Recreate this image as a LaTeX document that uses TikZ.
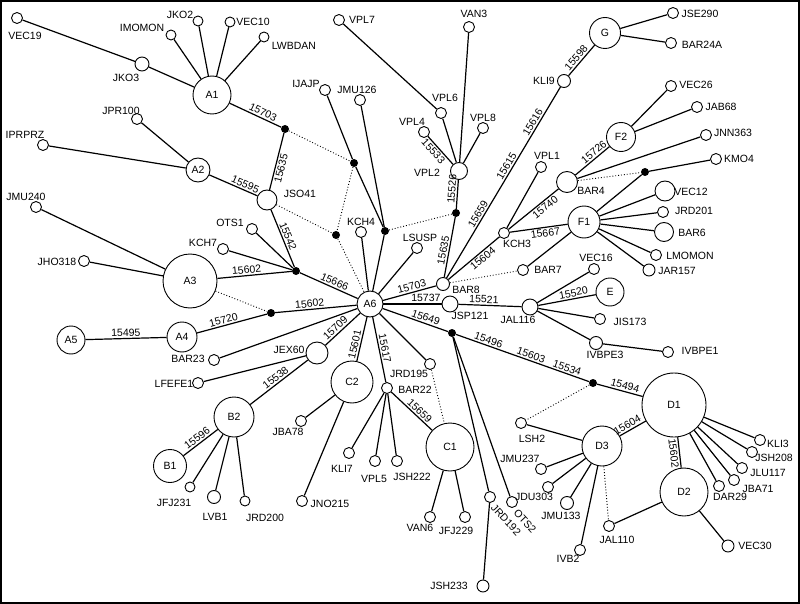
\documentclass[tikz,border=0pt]{standalone}
\usepackage{fontspec}
\setmainfont{Liberation Sans}
\tikzset{
  hap/.style={circle, draw, line width=.9pt, inner sep=0pt, minimum size=11pt},
  mv/.style={circle, fill=black, inner sep=0pt, minimum size=8pt},
  nm/.style={inner sep=0pt},
  dotline/.style={dotted, line width=.9pt},
}
\begin{document}
\begin{tikzpicture}[x=1pt, y=-1pt, font=\fontsize{10.5}{12}\selectfont]
\useasboundingbox (0,0) rectangle (800,604);
\draw[line width=2pt] (1,1) rectangle (799,603);

      \begin{scope}[every node/.style={hap}]
        \node[minimum size=38pt] (A1) at (212,95)  {A1};
        \node[minimum size=24pt] (A2) at (198,170) {A2};
        \node[minimum size=54pt] (A3) at (190,281) {A3};
        \node[minimum size=30pt] (A4) at (182,337) {A4};
        \node[minimum size=28pt] (A5) at (71,340)  {A5};
        \node[minimum size=26pt] (A6) at (370,304) {A6};
        \node[minimum size=33pt] (B1) at (170,466) {B1};
        \node[minimum size=40pt] (B2) at (234,417) {B2};
        \node[minimum size=48pt] (C1) at (450,447) {C1};
        \node[minimum size=42pt] (C2) at (352,382) {C2};
        \node[minimum size=64pt] (D1) at (674,405) {D1};
        \node[minimum size=48pt] (D2) at (684,492) {D2};
        \node[minimum size=40pt] (D3) at (602,446) {D3};
        \node[minimum size=28pt] (E)  at (610,292) {E};
        \node[minimum size=32pt] (F1) at (584,222) {F1};
        \node[minimum size=29pt] (F2) at (621,137) {F2};
        \node[minimum size=31pt] (G)  at (605,33)  {G};

        \node (VEC19)  at (17,18)   {};
        \node[minimum size=14pt] (JKO3) at (142,64) {};
        \node[minimum size=10pt] (IMOMON) at (171,35) {};
        \node[minimum size=10pt] (JKO2)   at (198,21) {};
        \node[minimum size=10pt] (VEC10)  at (230,22) {};
        \node[minimum size=10pt] (LWBDAN) at (264,37) {};
        \node (JPR100) at (137,119) {};
        \node (IPRPRZ) at (43,145)  {};
        \node[minimum size=20pt] (JSO41) at (267,200) {};
        \node (VPL7)   at (339,20)  {};
        \node (VAN3)   at (469,27)  {};
        \node (IJAJP)  at (325,90)  {};
        \node (JMU126) at (360,100) {};
        \node (VPL6)   at (441,113) {};
        \node (VPL4)   at (424,132) {};
        \node (VPL8)   at (483,128) {};
        \node[minimum size=17pt] (VPL2) at (459,171) {};
        \node (KCH4)   at (361,232) {};
        \node (LSUSP)  at (417,248) {};
        \node (OTS1)   at (252,229) {};
        \node (KCH7)   at (223,249) {};
        \node (JMU240) at (36,207)  {};
        \node (JHO318) at (84,261)  {};
        \node (BAR23)  at (214,360) {};
        \node (LFEFE1) at (198,383) {};
        \node[minimum size=22pt] (JEX60) at (317,353) {};
        \node[minimum size=10pt] (JFJ231) at (190,487) {};
        \node[minimum size=13pt] (LVB1)   at (214,497) {};
        \node[minimum size=10pt] (JRD200) at (245,501) {};
        \node (JBA78)  at (301,421) {};
        \node (JNO215) at (302,501) {};
        \node (BAR22)  at (387,388) {};
        \node (JRD195) at (430,364) {};
        \node (KLI7)   at (349,453) {};
        \node (VPL5)   at (375,461) {};
        \node (JSH222) at (397,461) {};
        \node (VAN6)   at (430,517) {};
        \node (JFJ229) at (465,517) {};
        \node (JRD192) at (490,497) {};
        \node (OTS2)   at (512,502) {};
        \node[minimum size=12pt] (JSH233) at (483,586) {};
        \node (LSH2)   at (521,423) {};
        \node (JMU237) at (541,469) {};
        \node (JDU303) at (548,487) {};
        \node[minimum size=13pt] (JMU133) at (567,503) {};
        \node (IVB2)   at (580,550) {};
        \node (JAL110) at (609,526) {};
        \node (KLI3)   at (760,440) {};
        \node (JSH208) at (752,452) {};
        \node (JLU117) at (742,468) {};
        \node (JBA71)  at (734,480) {};
        \node (DAR29)  at (719,486) {};
        \node[minimum size=12pt] (VEC30) at (728,546) {};
        \node[minimum size=16pt] (JSP121) at (450,304) {};
        \node[minimum size=16pt] (JAL116) at (530,307) {};
        \node (VEC16)  at (594,269) {};
        \node (JIS173) at (600,319) {};
        \node[minimum size=13pt] (IVBPE3) at (596,343) {};
        \node (IVBPE1) at (668,352) {};
        \node[minimum size=20pt] (VEC12) at (665,191) {};
        \node (JRD201) at (663,212) {};
        \node[minimum size=19pt] (BAR6) at (664,232) {};
        \node (LMOMON) at (656,255) {};
        \node[minimum size=12pt] (JAR157) at (649,270) {};
        \node (BAR7)   at (523,270) {};
        \node (KCH3)   at (504,233) {};
        \node (VPL1)   at (541,167) {};
        \node[minimum size=21pt] (BAR4) at (567,182) {};
        \node (VEC26)  at (671,86)  {};
        \node (JAB68)  at (697,107) {};
        \node (JNN363) at (706,135) {};
        \node (KMO4)   at (716,159) {};
        \node (JSE290) at (673,13)  {};
        \node (BAR24A) at (671,43)  {};
        \node[minimum size=13pt] (KLI9) at (564,81)  {};
        \node[minimum size=13pt] (BAR8) at (443,284) {};
      \end{scope}

      % median vectors
      \begin{scope}[every node/.style={mv}]
        \node (m1)  at (285,129) {};
        \node (m2)  at (354,163) {};
        \node (m3)  at (336,235) {};
        \node (m4)  at (385,231) {};
        \node (m5)  at (456,213) {};
        \node (m6)  at (296,271) {};
        \node (m7)  at (271,313) {};
        \node (m8)  at (452,333) {};
        \node (m9)  at (593,383) {};
        \node (m10) at (645,172) {};
      \end{scope}

      \begin{scope}[every node/.style={nm}]
        \node (tVEC19)  at (25,36)   {VEC19};
        \node (tJKO3)   at (126,78)  {JKO3};
        \node (tIMOMON) at (142,28)  {IMOMON};
        \node (tJKO2)   at (180,15)  {JKO2};
        \node (tVEC10)  at (253,22)  {VEC10};
        \node (tLWBDAN) at (294,46)  {LWBDAN};
        \node (tJPR100) at (121,111) {JPR100};
        \node (tIPRPRZ) at (25,135)  {IPRPRZ};
        \node (tJSO41)  at (300,194) {JSO41};
        \node (tVPL7)   at (362,20)  {VPL7};
        \node (tVAN3)   at (474,14)  {VAN3};
        \node (tIJAJP)  at (306,84)  {IJAJP};
        \node (tJMU126) at (357,90)  {JMU126};
        \node (tVPL6)   at (445,98)  {VPL6};
        \node (tVPL4)   at (412,122) {VPL4};
        \node (tVPL8)   at (483,118) {VPL8};
        \node (tVPL2)   at (427,173) {VPL2};
        \node (tKCH4)   at (361,222) {KCH4};
        \node (tLSUSP)  at (420,238) {LSUSP};
        \node (tOTS1)   at (230,223) {OTS1};
        \node (tKCH7)   at (203,243) {KCH7};
        \node (tJMU240) at (26,197)  {JMU240};
        \node (tJHO318) at (57,262)  {JHO318};
        \node (tBAR23)  at (188,359) {BAR23};
        \node (tLFEFE1) at (174,384) {LFEFE1};
        \node (tJEX60)  at (289,350) {JEX60};
        \node (tJFJ231) at (174,503) {JFJ231};
        \node (tLVB1)   at (215,517) {LVB1};
        \node (tJRD200) at (265,518) {JRD200};
        \node (tJBA78)  at (288,432) {JBA78};
        \node (tJNO215) at (330,504) {JNO215};
        \node (tBAR22)  at (415,390) {BAR22};
        \node (tJRD195) at (409,374) {JRD195};
        \node (tKLI7)   at (342,469) {KLI7};
        \node (tVPL5)   at (374,479) {VPL5};
        \node (tJSH222) at (412,477) {JSH222};
        \node (tVAN6)   at (420,528) {VAN6};
        \node (tJFJ229) at (456,531) {JFJ229};
        \node[rotate=-47] (tJRD192) at (506,520) {JRD192};
        \node[rotate=-47] (tOTS2)   at (525,521) {OTS2};
        \node (tJSH233) at (449,586) {JSH233};
        \node (tLSH2)   at (532,439) {LSH2};
        \node (tJMU237) at (520,459) {JMU237};
        \node (tJDU303) at (534,497) {JDU303};
        \node (tJMU133) at (561,516) {JMU133};
        \node (tIVB2)   at (568,559) {IVB2};
        \node (tJAL110) at (617,540) {JAL110};
        \node (tKLI3)   at (778,444) {KLI3};
        \node (tJSH208) at (774,458) {JSH208};
        \node (tJLU117) at (768,473) {JLU117};
        \node (tJBA71)  at (758,489) {JBA71};
        \node (tDAR29)  at (730,497) {DAR29};
        \node (tVEC30)  at (755,546) {VEC30};
        \node (tJSP121) at (470,316) {JSP121};
        \node (tJAL116) at (518,320) {JAL116};
        \node (tVEC16)  at (596,258) {VEC16};
        \node (tJIS173) at (630,322) {JIS173};
        \node (tIVBPE3) at (605,355) {IVBPE3};
        \node (tIVBPE1) at (700,351) {IVBPE1};
        \node (tVEC12)  at (691,192) {VEC12};
        \node (tJRD201) at (694,211) {JRD201};
        \node (tBAR6)   at (692,233) {BAR6};
        \node (tLMOMON) at (690,256) {LMOMON};
        \node (tJAR157) at (677,271) {JAR157};
        \node (tBAR7)   at (548,270) {BAR7};
        \node (tKCH3)   at (517,244) {KCH3};
        \node (tVPL1)   at (547,156) {VPL1};
        \node (tBAR4)   at (591,191) {BAR4};
        \node (tVEC26)  at (696,85)  {VEC26};
        \node (tJAB68)  at (721,107) {JAB68};
        \node (tJNN363) at (733,133) {JNN363};
        \node (tKMO4)   at (739,159) {KMO4};
        \node (tJSE290) at (700,14)  {JSE290};
        \node (tBAR24A) at (702,45)  {BAR24A};
        \node (tKLI9)   at (544,81)  {KLI9};
        \node (tBAR8)   at (466,290) {BAR8};
      \end{scope}

      \begin{scope}[every node/.style={sloped, inner sep=1.5pt}]

        \begin{scope}[every edge/.style={draw, line width=1.2pt}]
          % cluster A
          \path (VEC19) edge (JKO3);
          \path (JKO3)  edge (A1);
          \path (A1) edge (IMOMON);
          \path (A1) edge (JKO2);
          \path (A1) edge (VEC10);
          \path (A1) edge (LWBDAN);
          \path (A1) edge node[above, pos=.6] {15703} (m1);
          \path (A2) edge (JPR100);
          \path (A2) edge (IPRPRZ);
          \path (A2) edge node[above, pos=.7] {15595} (JSO41);
          \path (m1) edge node[below, pos=.6] {15635} (JSO41);
          \path (JSO41) edge node[above] {15542} (m6);
          \path (IJAJP) edge (m2);
          \path (m2) edge (m4);
          \path (JMU126) edge (m4);
          \path (m4) edge (A6);
          \path (KCH4) edge (A6);
          \path (LSUSP) edge (A6);
          \path (JMU240) edge (A3);
          \path (JHO318) edge (A3);
          \path (A3) edge node[above, pos=.4] {15602} (m6);
          \path (KCH7) edge (m6);
          \path (OTS1) edge (m6);
          \path (m6) edge node[above, pos=.56] {15666} (A6);
          \path (A5) edge node[above] {15495} (A4);
          \path (A4) edge node[above, pos=.4] {15720} (m7);
          \path (m7) edge node[above, pos=.43] {15602} (A6);
          % cluster B
          \path (BAR23) edge (A6);
          \path (LFEFE1) edge (JEX60);
          \path (JEX60) edge node[above, pos=.4] {15709} (A6);
          \path (JEX60) edge node[above] {15538} (B2);
          \path (B1) edge node[above] {15596} (B2);
          \path (B2) edge (JFJ231);
          \path (B2) edge (LVB1);
          \path (B2) edge (JRD200);
          % cluster C
          \path (A6) edge node[above, pos=.65] {15601} (C2);
          \path (C2) edge (JBA78);
          \path (C2) edge (JNO215);
          \path (A6) edge node[above] {15617} (BAR22);
          \path (BAR22) edge (KLI7);
          \path (BAR22) edge (VPL5);
          \path (BAR22) edge (JSH222);
          \path (BAR22) edge node[above, pos=.6] {15659} (C1);
          \path (C1) edge (VAN6);
          \path (C1) edge (JFJ229);
          \path (A6) edge (JRD195);
          % cluster D
          \path (A6) edge node[above, pos=.63] {15649} (m8);
          \path (m8) edge (JRD192);
          \path (JRD192) edge (JSH233);
          \path (m8) edge (OTS2);
          \path (m8) edge node[above, pos=.23] {15496}
                         node[above, pos=.55] {15603}
                         node[above, pos=.82] {15534} (m9);
          \path (m9) edge node[above, pos=.58] {15494} (D1);
          \path (LSH2) edge (D3);
          \path (D3) edge node[above, pos=.4] {15604} (D1);
          \path (D1) edge node[below] {15602} (D2);
          \path (D3) edge (JMU237);
          \path (D3) edge (JDU303);
          \path (D3) edge (JMU133);
          \path (D3) edge (IVB2);
          \path (JAL110) edge (D2);
          \path (D2) edge (VEC30);
          \path (D1) edge (KLI3);
          \path (D1) edge (JSH208);
          \path (D1) edge (JLU117);
          \path (D1) edge (JBA71);
          \path (D1) edge (DAR29);
          % cluster E
          \path (A6) edge node[above, pos=.73] {15737} (JSP121);
          \path (JSP121) edge node[above, pos=.4] {15521} (JAL116);
          \path (JAL116) edge (VEC16);
          \path (JAL116) edge node[above, pos=.63] {15520} (E);
          \path (JAL116) edge (JIS173);
          \path (JAL116) edge (IVBPE3);
          \path (IVBPE3) edge (IVBPE1);
          % clusters F, G
          \path (A6) edge node[above, pos=.57] {15703} (BAR8);
          \path (BAR8) edge node[above, pos=.43] {15635} (m5);
          \path (VPL2) edge node[above, pos=.33] {15526} (m5);
          \path (VPL4) edge node[below, pos=.39] {15533} (VPL2);
          \path (VPL6) edge (VPL2);
          \path (VPL7) edge (VPL6);
          \path (VAN3) edge (VPL2);
          \path (VPL8) edge (VPL2);
          \path (BAR8) edge node[above, pos=.32] {15659}
                            node[above, pos=.57] {15615}
                            node[above, pos=.8]  {15616} (KLI9);
          \path (KLI9) edge node[above, pos=.46] {15598} (G);
          \path (G) edge (JSE290);
          \path (G) edge (BAR24A);
          \path (BAR8) edge node[below, pos=.6] {15604} (KCH3);
          \path (KCH3) edge (VPL1);
          \path (KCH3) edge node[below, pos=.66] {15740} (BAR4);
          \path (KCH3) edge node[below, pos=.6] {15667} (F1);
          \path (BAR4) edge node[above, pos=.65] {15726} (F2);
          \path (F2) edge (VEC26);
          \path (F2) edge (JAB68);
          \path (BAR4) edge (JNN363);
          \path (m10) edge (KMO4);
          \path (F1) edge (m10);
          \path (F1) edge (VEC12);
          \path (F1) edge (JRD201);
          \path (F1) edge (BAR6);
          \path (F1) edge (LMOMON);
          \path (F1) edge (JAR157);
          \path (F1) edge (BAR7);
        \end{scope}

        \begin{scope}[every edge/.style={draw, dotline}]
          \path (m1) edge (m2);
          \path (m2) edge (m3);
          \path (JSO41) edge (m3);
          \path (m3) edge (A6);
          \path (m4) edge (m5);
          \path (A3) edge (m7);
          \path (BAR8) edge (BAR7);
          \path (BAR4) edge (m10);
          \path (JRD195) edge (C1);
          \path (m9) edge (LSH2);
          \path (D3) edge (JAL110);
        \end{scope}
      \end{scope}

\end{tikzpicture}
\end{document}
